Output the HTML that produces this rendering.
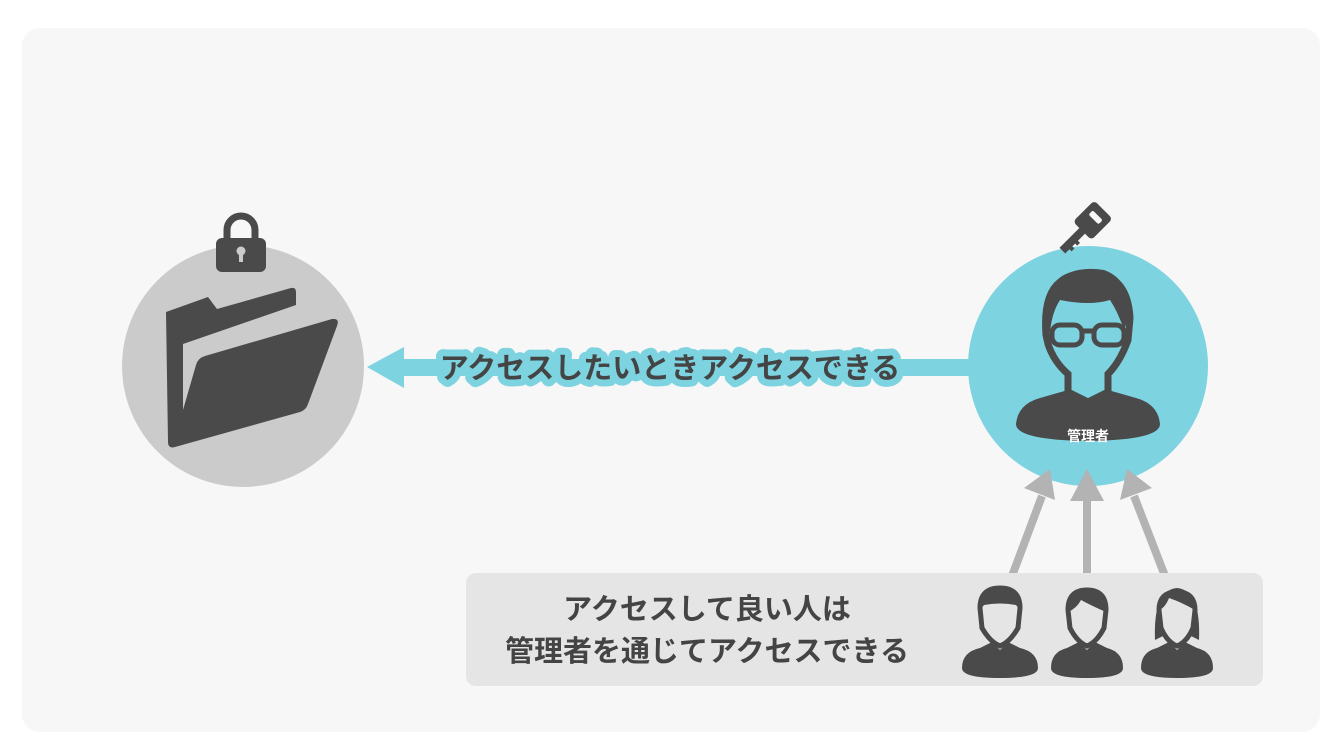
<!DOCTYPE html>
<html><head><meta charset="utf-8"><style>
html,body{margin:0;padding:0;background:#fff;}
svg{display:block;}
text{font-family:"Liberation Sans","Noto Sans CJK JP",sans-serif;font-weight:bold;}
</style></head><body>
<svg width="1344" height="756" viewBox="0 0 1344 756" xmlns="http://www.w3.org/2000/svg">
<rect x="22" y="28" width="1298" height="704" rx="18" fill="#f7f7f7"/>
<circle cx="243" cy="366" r="121" fill="#cbcbcb"/>
<path d="M227 240 v-10 a14 14 0 0 1 28 0 v10" fill="none" stroke="#4a4a4a" stroke-width="7"/>
<rect x="216" y="238" width="50" height="34" rx="6" fill="#4a4a4a"/>
<circle cx="241" cy="251" r="4.5" fill="#cbcbcb"/><rect x="239" y="252" width="4" height="10" fill="#cbcbcb"/>
<path d="M166 312 L208 297 L217 309 L291 288 Q296 287 296 292 L296 305 L183 344 L183 410 L196 365 Q198 358 205 356 L332 319 Q340 318 337 326 L308 404 Q306 410 300 412 L175 447 Q168 449 168 442 Z" fill="#4a4a4a"/>
<circle cx="1088" cy="366" r="120" fill="#7dd3e0"/>
<g transform="translate(1085,228) rotate(45)">
<rect x="-13" y="-26" width="26" height="30" rx="4" fill="#4a4a4a"/>
<rect x="-7" y="-18" width="14" height="6" rx="2" fill="#f7f7f7"/>
<rect x="-4" y="2" width="8" height="30" fill="#4a4a4a"/>
<rect x="3" y="14" width="4" height="4" fill="#4a4a4a"/><rect x="3" y="22" width="4" height="4" fill="#4a4a4a"/>
</g>
<path d="M1016 424 Q1018 404 1040 398 L1068 390 L1080 400 L1097 400 L1108 390 L1136 398 Q1158 404 1160 424 Q1160 440 1088 441 Q1016 440 1016 424 Z" fill="#4a4a4a"/>
<path d="M1068 390 L1086 404 L1108 390 L1106 388 L1070 388 Z" fill="#7dd3e0"/>
<path d="M1083 398 L1093 398 L1096 420 L1088 428 L1080 420 Z" fill="#4a4a4a"/>
<path d="M1046 335 Q1043 295 1060 282 Q1076 272 1100 274 Q1128 280 1130 318 L1128 340 Q1120 362 1108 374 L1108 392 L1088 402 L1068 392 L1068 374 Q1054 362 1048 344 Z" fill="none" stroke="#4a4a4a" stroke-width="7"/>
<path d="M1046 330 Q1042 290 1062 276 Q1080 266 1104 270 Q1132 280 1128 318 L1124 330 Q1118 312 1110 300 Q1090 306 1060 300 Q1052 312 1050 332 Z" fill="#4a4a4a"/>
<g fill="none" stroke="#4a4a4a" stroke-width="5"><rect x="1052" y="325" width="30" height="20" rx="8"/><rect x="1094" y="325" width="30" height="20" rx="8"/><path d="M1082 331 H1094"/></g>
<text x="1088" y="441" font-size="14" fill="#fff" text-anchor="middle">管理者</text>
<rect x="400" y="359" width="570" height="17" fill="#7dd3e0"/>
<polygon points="367,367 404,347 404,388" fill="#7dd3e0"/>
<text x="670" y="378" font-size="29" fill="#444" text-anchor="middle" stroke="#7dd3e0" stroke-width="14" stroke-linejoin="round" paint-order="stroke">アクセスしたいときアクセスできる</text>
<g stroke="#b3b3b3" stroke-width="8"><line x1="1012" y1="576" x2="1042" y2="496"/><line x1="1087" y1="576" x2="1087" y2="496"/><line x1="1165" y1="576" x2="1134" y2="496"/></g>
<g fill="#b3b3b3">
<polygon points="1050,469 1024,488 1055,500"/>
<polygon points="1087,469 1070,501 1104,501"/>
<polygon points="1127,469 1120,500 1152,488"/>
</g>
<rect x="466" y="573" width="797" height="113" rx="10" fill="#e5e5e5"/>
<text x="707" y="619" font-size="29" fill="#444" text-anchor="middle">アクセスして良い人は</text>
<text x="707" y="661" font-size="29" fill="#444" text-anchor="middle">管理者を通じてアクセスできる</text>
<g fill="#4a4a4a">
<g transform="translate(1000,0)">
<path d="M-38 668 Q-38 652 -20 648 L-8 642 L0 650 L8 642 L20 648 Q38 652 38 668 Q38 678 0 678 Q-38 678 -38 668Z"/>
<path d="M-20 608 Q-20 588 0 588 Q20 588 20 608 L18 628 Q10 642 0 646 Q-10 642 -18 628 Z" fill="none" stroke="#4a4a4a" stroke-width="5"/>
<path d="M-20 610 Q-22 590 0 588 Q22 588 20 610 L16 605 Q0 602 -16 605 Z"/>
</g>
<g transform="translate(1087,0)">
<path d="M-36 668 Q-36 652 -20 648 L-8 642 L0 650 L8 642 L20 648 Q36 652 36 668 Q36 678 0 678 Q-36 678 -36 668Z"/>
<path d="M-19 610 Q-19 590 0 590 Q19 590 19 610 L17 628 Q10 642 0 646 Q-10 642 -17 628 Z" fill="none" stroke="#4a4a4a" stroke-width="5"/>
<path d="M-19 612 Q-20 590 0 589 Q20 590 19 612 Q5 606 -6 600 Q-10 608 -19 612Z"/>
</g>
<g transform="translate(1177,0)">
<path d="M-36 668 Q-36 652 -20 648 L-8 642 L0 650 L8 642 L20 648 Q36 652 36 668 Q36 678 0 678 Q-36 678 -36 668Z"/>
<path d="M-18 610 Q-18 592 0 592 Q18 592 18 610 L16 628 Q10 642 0 646 Q-10 642 -16 628 Z" fill="none" stroke="#4a4a4a" stroke-width="5"/>
<path d="M-22 640 Q-24 590 0 588 Q24 590 22 640 L14 636 L18 610 Q4 602 -8 598 Q-12 608 -18 610 L-14 636Z"/>
</g>
</g>
</svg>
</body></html>
